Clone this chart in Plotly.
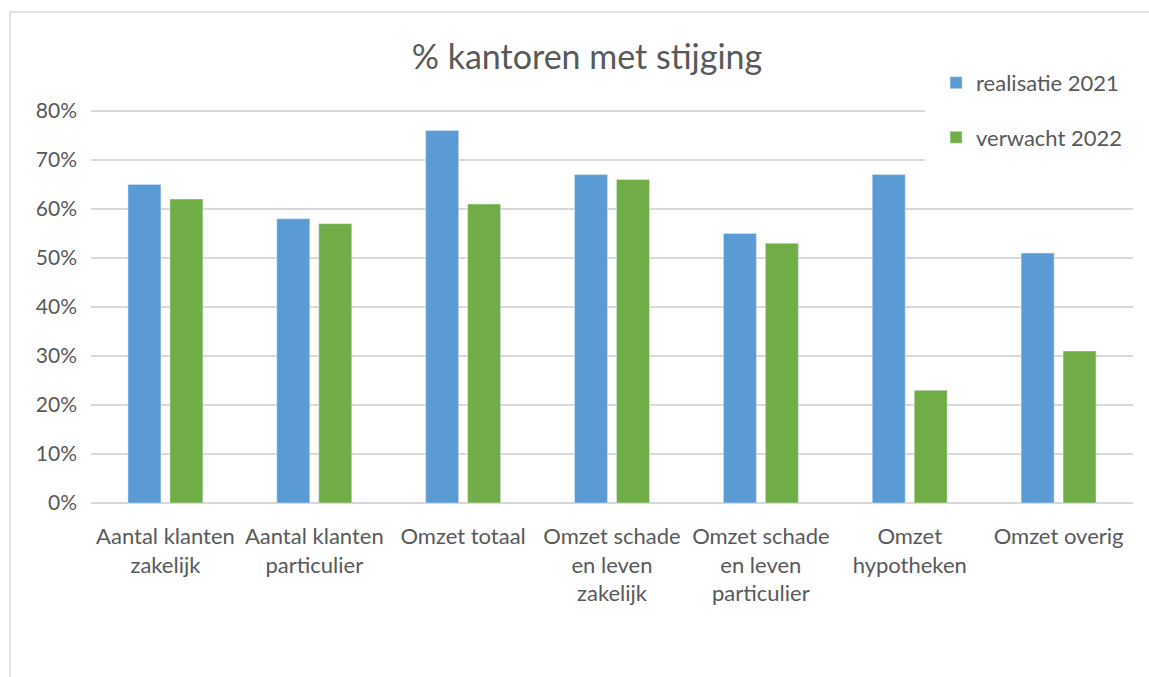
import plotly.graph_objects as go

categories = ["Aantal klanten<br>zakelijk", "Aantal klanten<br>particulier", "Omzet totaal",
              "Omzet schade<br>en leven<br>zakelijk", "Omzet schade<br>en leven<br>particulier",
              "Omzet<br>hypotheken", "Omzet overig"]
realisatie_2021 = [0.65, 0.58, 0.76, 0.67, 0.55, 0.67, 0.51]
verwacht_2022 = [0.62, 0.57, 0.61, 0.66, 0.53, 0.23, 0.31]
y_ticks = [0, 0.1, 0.2, 0.3, 0.4, 0.5, 0.6, 0.7, 0.8]

FONT = "Lato"
GREY = "#595959"

# plot area geometry (pixels)
L, R, BOT = 91, 1133, 503
PX_PER_UNIT = 490.0
YMAX = 0.81
TOP = BOT - YMAX * PX_PER_UNIT
H = BOT - TOP

def py(p):
    return (BOT - p) / H

def px(p):
    return (p - L) / (R - L)

fig = go.Figure()
fig.add_trace(go.Bar(x=categories, y=realisatie_2021, name="realisatie 2021",
                     marker_color="#5B9BD5", legendgroup="a"))
fig.add_trace(go.Bar(x=categories, y=verwacht_2022, name="verwacht 2022",
                     marker_color="#70AD47", legendgroup="b"))

fig.update_layout(
    width=1149, height=677,
    margin=dict(l=L, r=1149 - R, t=TOP, b=677 - BOT),
    paper_bgcolor="white", plot_bgcolor="white",
    font=dict(family=FONT, color=GREY, size=21),
    title=dict(text="% kantoren met stijging", x=587 / 1149, xanchor="center",
               y=1 - 57 / 677, yanchor="middle",
               font=dict(family=FONT, size=34, color=GREY)),
    bargap=0.436, bargroupgap=0.214,
    showlegend=True,
    legend=dict(x=0.811, y=py(62), xanchor="left", yanchor="top",
                bgcolor="white", tracegroupgap=23,
                font=dict(family=FONT, size=22, color=GREY)),
    xaxis=dict(showgrid=False, showline=False, ticks="", tickfont=dict(size=22),
               ticklabelstandoff=18),
    yaxis=dict(range=[0, YMAX], tickvals=y_ticks, tickformat=".0%",
               showgrid=True, gridcolor="#d9d9d9", gridwidth=2,
               zeroline=True, zerolinecolor="#d9d9d9", zerolinewidth=2,
               ticks="", ticklabelstandoff=13, tickfont=dict(size=21)),
)

fig.add_shape(type="rect", xref="paper", yref="paper",
              x0=px(10), x1=1.2, y0=-1.0, y1=py(12),
              line=dict(color="#d9d9d9", width=1.5), fillcolor="rgba(0,0,0,0)", layer="below")
# white legend box covering the top gridlines on the right
fig.add_shape(type="rect", xref="paper", yref="paper",
              x0=px(925), x1=1.05, y0=py(185), y1=py(60),
              line=dict(width=0), fillcolor="white", layer="above")

fig.write_html("out.html", post_script="document.body.style.margin='0';",
               config={"displayModeBar": False})
